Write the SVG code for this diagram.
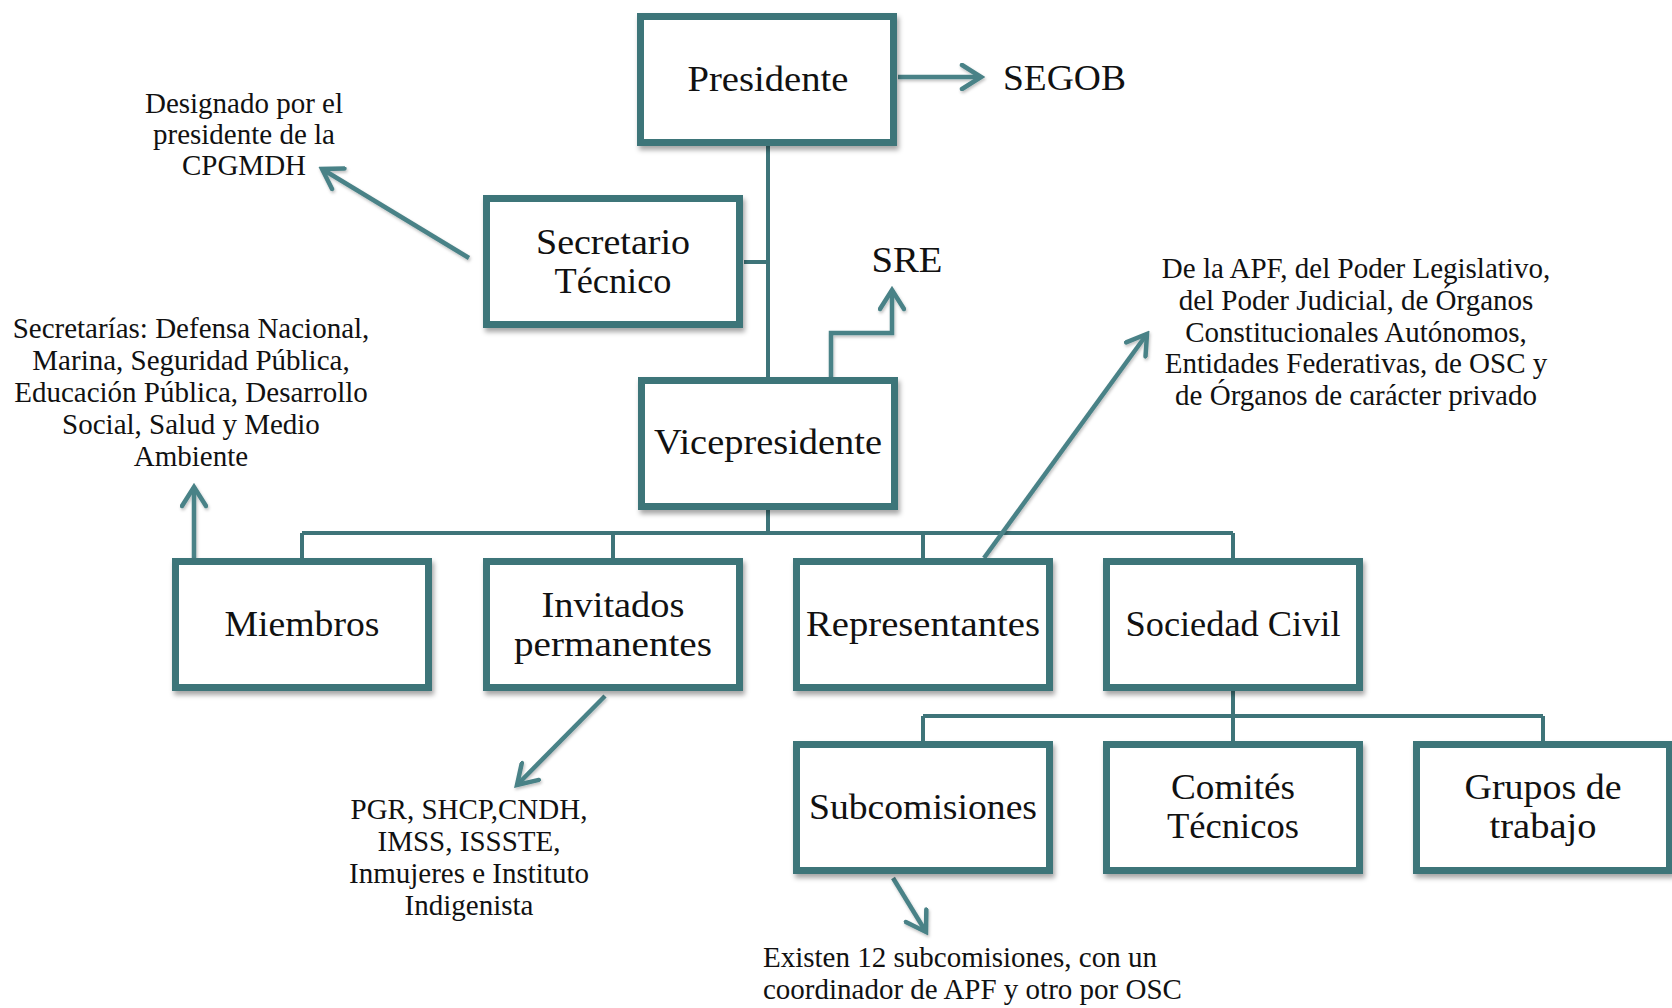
<svg xmlns="http://www.w3.org/2000/svg" width="1672" height="1008" viewBox="0 0 1672 1008">
<style>
  .box { fill: #ffffff; stroke: #3e7479; stroke-width: 7; filter: url(#sh); }
  .lbl { font-family: "Liberation Serif", "Times New Roman", serif; font-size: 36px; fill: #111111; text-anchor: middle; }
  .note { font-family: "Liberation Serif", "Times New Roman", serif; font-size: 29px; fill: #111111; text-anchor: middle; }
  .tree { fill: none; stroke: #3e7479; stroke-width: 4; }
  .arr { fill: none; stroke: #4a8287; stroke-width: 4.5; marker-end: url(#chev); filter: url(#sh2); }
</style>
<defs>
  <filter id="sh" x="-10%" y="-10%" width="130%" height="130%">
    <feDropShadow dx="2" dy="4" stdDeviation="2.5" flood-color="#000000" flood-opacity="0.35"/>
  </filter>
  <filter id="sh2" filterUnits="userSpaceOnUse" x="0" y="0" width="1672" height="1008">
    <feDropShadow dx="1" dy="2" stdDeviation="1.5" flood-color="#000000" flood-opacity="0.25"/>
  </filter>
  <marker id="chev" markerUnits="userSpaceOnUse" viewBox="0 0 26 28" markerWidth="26" markerHeight="28" refX="22" refY="14" orient="auto">
    <path d="M3,2 L22,14 L3,26" fill="none" stroke="#4a8287" stroke-width="4.5" stroke-linejoin="miter" stroke-linecap="round"/>
  </marker>
</defs>
<rect width="1672" height="1008" fill="#ffffff"/>

<g id="connectors">
  <path class="tree" d="M768,146 V377 M744,262 H768 M768,510 V533 M302,533 H1233 M302,533 V558 M613,533 V558 M923,533 V558 M1233,533 V558"/>
  <path class="tree" d="M1233,691 V716 M923,716 H1543 M923,716 V741 M1233,716 V741 M1543,716 V741"/>
  <line class="arr" x1="898" y1="77" x2="981" y2="77"/>
  <line class="arr" x1="469" y1="258" x2="322" y2="169"/>
  <polyline class="arr" points="831,377 831,333 892,333 892,290"/>
  <line class="arr" x1="194" y1="558" x2="194" y2="487"/>
  <line class="arr" x1="984" y1="558" x2="1147" y2="334"/>
  <line class="arr" x1="605" y1="696" x2="517" y2="785"/>
  <line class="arr" x1="893" y1="878" x2="926" y2="932"/>
</g>

<g id="presidente">
  <rect class="box" x="640.5" y="16.5" width="253" height="126"/>
  <text class="lbl" x="768" y="91" textLength="161" lengthAdjust="spacingAndGlyphs">Presidente</text>
</g>
<g id="segob">
  <text class="lbl" x="1003" y="90" style="text-anchor:start" textLength="123" lengthAdjust="spacingAndGlyphs">SEGOB</text>
</g>
<g id="secretario">
  <rect class="box" x="486.5" y="198.5" width="253" height="126"/>
  <text class="lbl"><tspan x="613" y="254" textLength="154" lengthAdjust="spacingAndGlyphs">Secretario</tspan><tspan x="613" y="293" textLength="117" lengthAdjust="spacingAndGlyphs">Técnico</tspan></text>
</g>
<g id="designado">
  <text class="note" x="244" y="113">Designado por el</text>
  <text class="note" x="244" y="144">presidente de la</text>
  <text class="note" x="244" y="175">CPGMDH</text>
</g>
<g id="sre">
  <text class="lbl" x="907" y="272" textLength="71" lengthAdjust="spacingAndGlyphs">SRE</text>
</g>
<g id="vicepresidente">
  <rect class="box" x="641.5" y="380.5" width="253" height="126"/>
  <text class="lbl" x="768" y="454" textLength="228" lengthAdjust="spacingAndGlyphs">Vicepresidente</text>
</g>
<g id="secretarias">
  <text class="note" x="191" y="338">Secretarías: Defensa Nacional,</text>
  <text class="note" x="191" y="370">Marina, Seguridad Pública,</text>
  <text class="note" x="191" y="402">Educación Pública, Desarrollo</text>
  <text class="note" x="191" y="434">Social, Salud y Medio</text>
  <text class="note" x="191" y="466">Ambiente</text>
</g>
<g id="delaapf">
  <text class="note" x="1356" y="278">De la APF, del Poder Legislativo,</text>
  <text class="note" x="1356" y="310">del Poder Judicial, de Órganos</text>
  <text class="note" x="1356" y="342">Constitucionales Autónomos,</text>
  <text class="note" x="1356" y="373">Entidades Federativas, de OSC y</text>
  <text class="note" x="1356" y="405">de Órganos de carácter privado</text>
</g>
<g id="miembros">
  <rect class="box" x="175.5" y="561.5" width="253" height="126"/>
  <text class="lbl" x="302" y="636" textLength="155" lengthAdjust="spacingAndGlyphs">Miembros</text>
</g>
<g id="invitados">
  <rect class="box" x="486.5" y="561.5" width="253" height="126"/>
  <text class="lbl"><tspan x="613" y="617" textLength="143" lengthAdjust="spacingAndGlyphs">Invitados</tspan><tspan x="613" y="656" textLength="198" lengthAdjust="spacingAndGlyphs">permanentes</tspan></text>
</g>
<g id="representantes">
  <rect class="box" x="796.5" y="561.5" width="253" height="126"/>
  <text class="lbl" x="923" y="636" textLength="234" lengthAdjust="spacingAndGlyphs">Representantes</text>
</g>
<g id="sociedad">
  <rect class="box" x="1106.5" y="561.5" width="253" height="126"/>
  <text class="lbl" x="1233" y="636" textLength="215" lengthAdjust="spacingAndGlyphs">Sociedad Civil</text>
</g>
<g id="pgr">
  <text class="note" x="469" y="819">PGR, SHCP,CNDH,</text>
  <text class="note" x="469" y="851">IMSS, ISSSTE,</text>
  <text class="note" x="469" y="883">Inmujeres e Instituto</text>
  <text class="note" x="469" y="915">Indigenista</text>
</g>
<g id="subcomisiones">
  <rect class="box" x="796.5" y="744.5" width="253" height="126"/>
  <text class="lbl" x="923" y="819" textLength="228" lengthAdjust="spacingAndGlyphs">Subcomisiones</text>
</g>
<g id="comites">
  <rect class="box" x="1106.5" y="744.5" width="253" height="126"/>
  <text class="lbl"><tspan x="1233" y="799" textLength="124" lengthAdjust="spacingAndGlyphs">Comités</tspan><tspan x="1233" y="838" textLength="132" lengthAdjust="spacingAndGlyphs">Técnicos</tspan></text>
</g>
<g id="grupos">
  <rect class="box" x="1416.5" y="744.5" width="253" height="126"/>
  <text class="lbl"><tspan x="1543" y="799" textLength="157" lengthAdjust="spacingAndGlyphs">Grupos de</tspan><tspan x="1543" y="838" textLength="107" lengthAdjust="spacingAndGlyphs">trabajo</tspan></text>
</g>
<g id="existen">
  <text class="note" x="763" y="967" style="text-anchor:start">Existen 12 subcomisiones, con un</text>
  <text class="note" x="763" y="999" style="text-anchor:start">coordinador de APF y otro por OSC</text>
</g>
</svg>
